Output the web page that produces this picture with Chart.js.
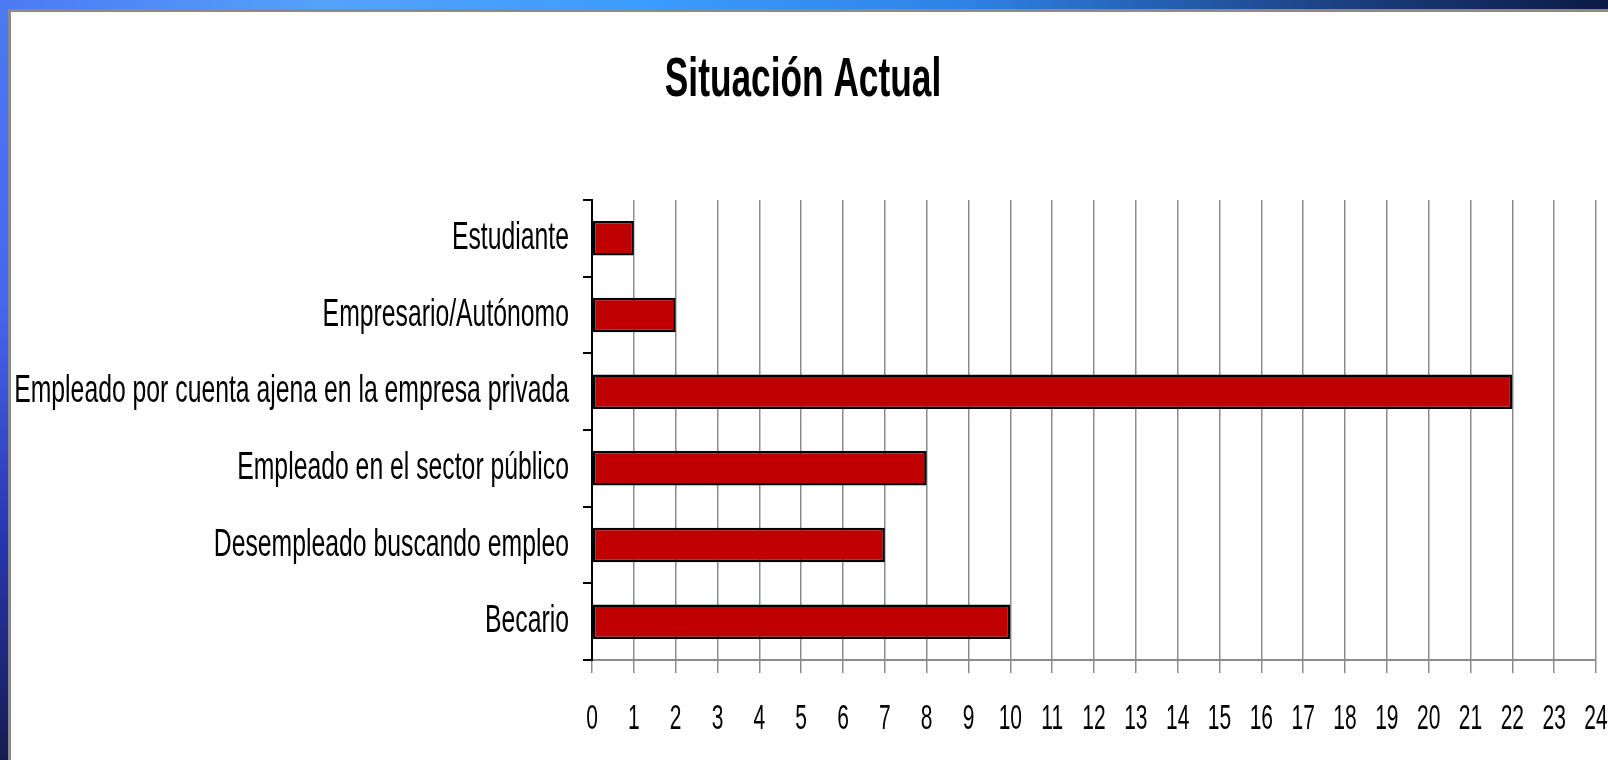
<!DOCTYPE html>
<html>
<head>
<meta charset="utf-8">
<script src="https://cdn.jsdelivr.net/npm/chart.js@4"></script>
<style>
  body { margin: 0; width: 1608px; height: 760px; overflow: hidden; position: relative; background: #fff; }
  #topBand { position: absolute; left: 0; top: 0; width: 1608px; height: 9px;
    background: linear-gradient(to right, #4c78f4 0%, #55a2fa 20%, #3c9cff 40%, #2f82e6 60%, #1a3c7a 85%, #0c1a46 100%); }
  #leftBand { position: absolute; left: 0; top: 0; width: 8px; height: 760px;
    background: linear-gradient(to bottom, #4c7af2 0%, #4666ee 40%, #2a36b2 70%, #151d50 100%); }
  #panel { position: absolute; left: 8px; top: 9px; right: 0; bottom: 0;
    border-left: 3px solid #8a8a8a; border-top: 3px solid #8a8a8a; background: #fff; }
  #chartBox { position: absolute; left: 0; top: 0; width: 1608px; height: 760px; }
</style>
</head>
<body>
<div id="topBand"></div>
<div id="leftBand"></div>
<div id="panel"></div>
<div id="chartBox"><canvas id="myChart"></canvas></div>
<script>
// data
var chartTitle = "Situación Actual";
var categories = [
  "Estudiante",
  "Empresario/Autónomo",
  "Empleado por cuenta ajena en la empresa privada",
  "Empleado en el sector público",
  "Desempleado buscando empleo",
  "Becario",
];
var counts = [1, 2, 22, 8, 7, 10];
var axisMin = 0;
var axisMax = 24;
var axisStep = 1;

var fontFamily = "'Liberation Sans', Arial, sans-serif";
var titleSize = 56;
var labelSize = 39;
var tickSize = 35;

// the original text is squeezed sideways, so squeeze what chart.js writes
// (how much depends on the font size in use)
var squeezeBySize = {};
squeezeBySize[titleSize] = 0.63;
squeezeBySize[labelSize] = 0.635;
squeezeBySize[tickSize] = 0.6;

function squeezeFor(font) {
  var m = /(\d+(\.\d+)?)px/.exec(font);
  var s = m ? squeezeBySize[Math.round(parseFloat(m[1]))] : undefined;
  return s || 1;
}

var canvas = document.getElementById("myChart");
var ctx = canvas.getContext("2d");
var baseFillText = ctx.fillText;
var baseMeasureText = ctx.measureText;
ctx.fillText = function (text, x, y) {
  var s = squeezeFor(this.font);
  this.save();
  this.translate(x, y);
  this.scale(s, 1);
  baseFillText.call(this, text, 0, 0);
  this.restore();
};
ctx.measureText = function (text) {
  var m = baseMeasureText.call(this, text);
  return {
    width: m.width * squeezeFor(this.font),
    actualBoundingBoxAscent: m.actualBoundingBoxAscent,
    actualBoundingBoxDescent: m.actualBoundingBoxDescent,
  };
};

var config = {
  type: "bar",
  data: {
    labels: categories,
    datasets: [
      {
        data: counts,
        backgroundColor: "#C00000",
        borderColor: "#000000",
        borderWidth: 2.5,
        borderSkipped: false,
        categoryPercentage: 1,
        barPercentage: 0.45,
      },
    ],
  },
  options: {
    indexAxis: "y",
    responsive: true,
    maintainAspectRatio: false,
    animation: false,
    layout: {
      padding: { left: 10, right: 12, top: 0, bottom: 0 },
    },
    plugins: {
      legend: { display: false },
      tooltip: { enabled: false },
      title: {
        display: true,
        text: chartTitle,
        color: "#000",
        font: { family: fontFamily, size: titleSize, weight: "bold", lineHeight: 1.2 },
        padding: { top: 47, bottom: 85.8 },
      },
    },
    scales: {
      x: {
        min: axisMin,
        max: axisMax,
        afterFit: function (scale) {
          scale.height = 100;
        },
        ticks: {
          stepSize: axisStep,
          color: "#000",
          padding: 0,
          font: { family: fontFamily, size: tickSize, lineHeight: 2.66 },
        },
        grid: {
          color: "#8c8c8c",
          lineWidth: 1.5,
          tickLength: 13,
        },
        border: { color: "#8c8c8c", width: 2 },
      },
      y: {
        z: 1,
        afterFit: function (scale) {
          scale.width = 582;
        },
        ticks: {
          color: "#000",
          padding: 14,
          font: { family: fontFamily, size: labelSize, lineHeight: 1.2 },
        },
        grid: {
          offset: true,
          drawOnChartArea: false,
          color: "#000",
          lineWidth: 2,
          tickLength: 9,
        },
        border: { color: "#000", width: 2 },
      },
    },
  },
};

var myChart = new Chart(canvas, config);
</script>
</body>
</html>
